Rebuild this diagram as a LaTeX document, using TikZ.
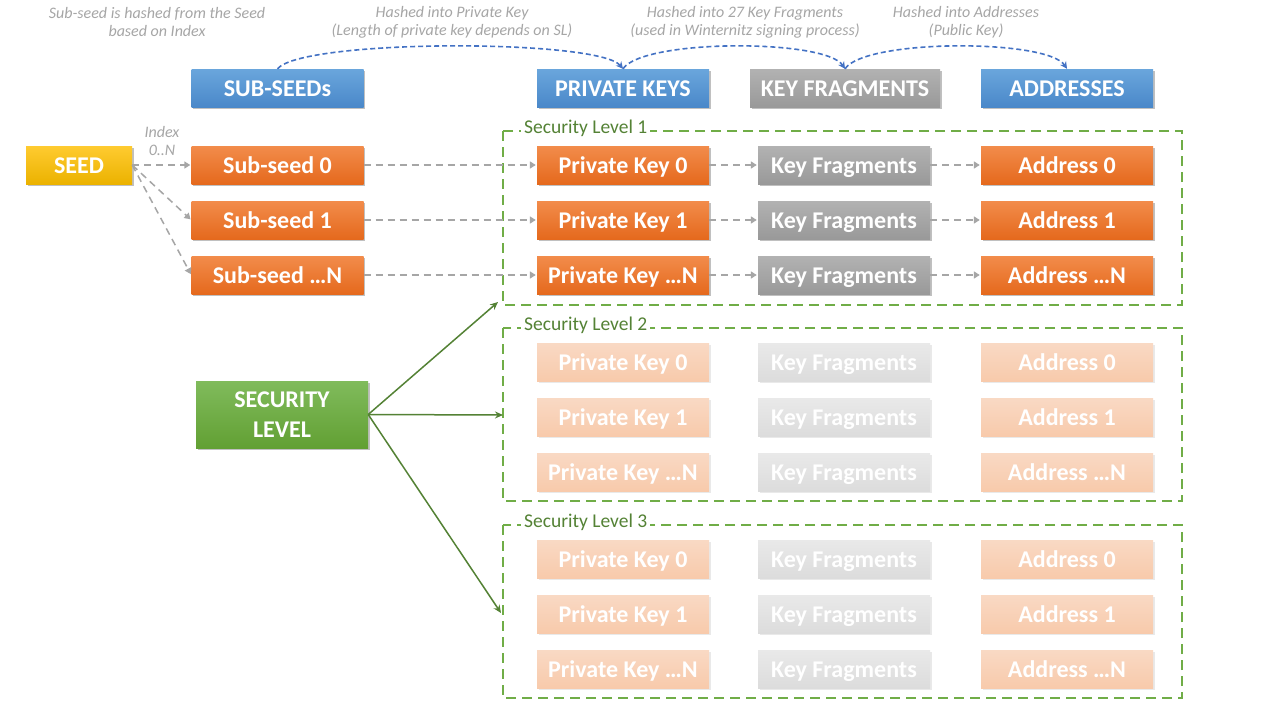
\documentclass[tikz,border=0pt]{standalone}
\usepackage{fontspec}
\setmainfont{Carlito}
\usetikzlibrary{arrows.meta,shadows}
\definecolor{bluetop}{HTML}{6AA6DC}
\definecolor{bluebot}{HTML}{4A88C9}
\definecolor{orgtop}{HTML}{F28C4B}
\definecolor{orgbot}{HTML}{E5691D}
\definecolor{grytop}{HTML}{B2B2B2}
\definecolor{grybot}{HTML}{999999}
\definecolor{yeltop}{HTML}{FFCB30}
\definecolor{yelbot}{HTML}{EBB200}
\definecolor{grntop}{HTML}{80BB5C}
\definecolor{grnbot}{HTML}{62A033}
\definecolor{forgtop}{HTML}{F9D9C4}
\definecolor{forgbot}{HTML}{F8CAAB}
\definecolor{fgrytop}{HTML}{E9E9E9}
\definecolor{fgrybot}{HTML}{DCDCDC}
\definecolor{capgray}{HTML}{A6A6A6}
\definecolor{arrgray}{HTML}{A6A6A6}
\definecolor{slgreen}{HTML}{70AD47}
\definecolor{sltext}{HTML}{548235}
\definecolor{curveblue}{HTML}{4472C4}
\tikzset{
  boxcore/.style={rectangle, minimum width=172pt, minimum height=38pt, inner sep=0pt,
    text=white, font=\bfseries\fontsize{24}{28}\selectfont},
  boxbase/.style={boxcore, text height=20pt, text depth=4pt,
    drop shadow={shadow xshift=1.5pt, shadow yshift=-2pt, opacity=0.35, fill=black!70}},
  fadebase/.style={boxcore, text height=20pt, text depth=4pt,
    drop shadow={shadow xshift=1.5pt, shadow yshift=-2pt, opacity=0.12, fill=black!70}},
  hb/.style={boxbase, top color=bluetop, bottom color=bluebot},
  hg/.style={boxbase, top color=grytop, bottom color=grybot},
  ob/.style={boxbase, top color=orgtop, bottom color=orgbot},
  gb/.style={boxbase, top color=grytop, bottom color=grybot},
  fob/.style={fadebase, top color=forgtop, bottom color=forgbot},
  fgb/.style={fadebase, top color=fgrytop, bottom color=fgrybot},
  yb/.style={boxbase, minimum width=106pt, top color=yeltop, bottom color=yelbot},
  greenbox/.style={boxcore, minimum height=67pt, align=center,
    font=\bfseries\fontsize{24}{30}\selectfont, top color=grntop, bottom color=grnbot,
    drop shadow={shadow xshift=1.5pt, shadow yshift=-2pt, opacity=0.35, fill=black!70}},
  captxt/.style={text=capgray, font=\itshape\fontsize{16}{18}\selectfont, align=center},
  gar/.style={draw=arrgray, line width=1.5pt, dash pattern=on 7pt off 5pt,
    -{Triangle[length=6pt,width=7pt]}, shorten >=1pt},
  bar/.style={draw=curveblue, line width=1.6pt, dash pattern=on 5pt off 3pt,
    -{Stealth[length=7pt,width=7pt]}},
  grar/.style={draw=sltext, line width=1.5pt, -{Stealth[length=8pt,width=7pt]}},
  slframe/.style={draw=slgreen, line width=2.5pt, dash pattern=on 10pt off 6pt},
  sllabel/.style={text=sltext, fill=white, font=\fontsize{19.5}{22}\selectfont,
    inner sep=3pt, anchor=west}
}
\begin{document}
\begin{tikzpicture}[x=1pt,y=-1pt]
\useasboundingbox[fill=white] (0,0) rectangle (1280,720);

% captions
\node[captxt] (c1) at (157,22) {Sub-seed is hashed from the Seed\\based on Index};
\node[captxt] (c2) at (452,22) {Hashed into Private Key\\(Length of private key depends on SL)};
\node[captxt] (c3) at (745,22) {Hashed into 27 Key Fragments\\(used in Winternitz signing process)};
\node[captxt] (c4) at (966,22) {Hashed into Addresses\\(Public Key)};

% headers
\node[hb] (hss) at (277.5,88) {SUB-SEEDs};
\node[hb] (hpk) at (623,88) {PRIVATE KEYS};
\node[hg, minimum width=190pt] (hkf) at (845,88) {KEY FRAGMENTS};
\node[hb] (had) at (1067,88) {ADDRESSES};

% blue curves
\draw[bar] (hss.north) .. controls +(25,-30) and +(-25,-30) .. (hpk.north);
\draw[bar] (hpk.north) .. controls +(20,-30) and +(-20,-30) .. (hkf.north);
\draw[bar] (hkf.north) .. controls +(20,-30) and +(-20,-30) .. (had.north);

% security level frames
\draw[slframe] (503,131) rectangle (1182,305);
\draw[slframe] (503,328) rectangle (1182,501);
\draw[slframe] (503,525) rectangle (1182,698);
\node[sllabel] (sl1) at (521,128) {Security Level 1};
\node[sllabel] (sl2) at (521,325) {Security Level 2};
\node[sllabel] (sl3) at (521,522) {Security Level 3};

% seed and sub-seeds
\node[yb] (seed) at (79,165) {SEED};
\node[ob] (ss1) at (277.5,165) {Sub-seed 0};
\node[ob] (ss2) at (277.5,220) {Sub-seed 1};
\node[ob] (ss3) at (277.5,275) {Sub-seed …N};
\node[captxt] (idx) at (162,141) {Index\\0..N};

% security level 1
\node[ob] (pk11) at (623,165) {Private Key 0};
\node[ob] (pk12) at (623,220) {Private Key 1};
\node[ob] (pk13) at (623,275) {Private Key …N};
\node[gb] (kf11) at (844,165) {Key Fragments};
\node[gb] (kf12) at (844,220) {Key Fragments};
\node[gb] (kf13) at (844,275) {Key Fragments};
\node[ob] (ad11) at (1067,165) {Address 0};
\node[ob] (ad12) at (1067,220) {Address 1};
\node[ob] (ad13) at (1067,275) {Address …N};

% security level 2
\node[fob] (pk21) at (623,362) {Private Key 0};
\node[fob] (pk22) at (623,417) {Private Key 1};
\node[fob] (pk23) at (623,472) {Private Key …N};
\node[fgb] (kf21) at (844,362) {Key Fragments};
\node[fgb] (kf22) at (844,417) {Key Fragments};
\node[fgb] (kf23) at (844,472) {Key Fragments};
\node[fob] (ad21) at (1067,362) {Address 0};
\node[fob] (ad22) at (1067,417) {Address 1};
\node[fob] (ad23) at (1067,472) {Address …N};

% security level 3
\node[fob] (pk31) at (623,559) {Private Key 0};
\node[fob] (pk32) at (623,614) {Private Key 1};
\node[fob] (pk33) at (623,669) {Private Key …N};
\node[fgb] (kf31) at (844,559) {Key Fragments};
\node[fgb] (kf32) at (844,614) {Key Fragments};
\node[fgb] (kf33) at (844,669) {Key Fragments};
\node[fob] (ad31) at (1067,559) {Address 0};
\node[fob] (ad32) at (1067,614) {Address 1};
\node[fob] (ad33) at (1067,669) {Address …N};

% gray dashed arrows
\draw[gar] (seed.east) -- (ss1.west);
\draw[gar] (seed.east) -- (ss2.west);
\draw[gar] (seed.east) -- (ss3.west);
\draw[gar] (ss1) -- (pk11);
\draw[gar] (ss2) -- (pk12);
\draw[gar] (ss3) -- (pk13);
\draw[gar] (pk11) -- (kf11);
\draw[gar] (pk12) -- (kf12);
\draw[gar] (pk13) -- (kf13);
\draw[gar] (kf11) -- (ad11);
\draw[gar] (kf12) -- (ad12);
\draw[gar] (kf13) -- (ad13);

% security level box and arrows
\node[greenbox] (sec) at (282,414.5) {SECURITY\\LEVEL};
\coordinate (t1) at (498,302);
\coordinate (t2) at (503,415);
\coordinate (t3) at (501,613);
\draw[grar] (sec.east) -- (t1);
\draw[grar] (sec.east) -- (t2);
\draw[grar] (sec.east) -- (t3);
\end{tikzpicture}
\end{document}
